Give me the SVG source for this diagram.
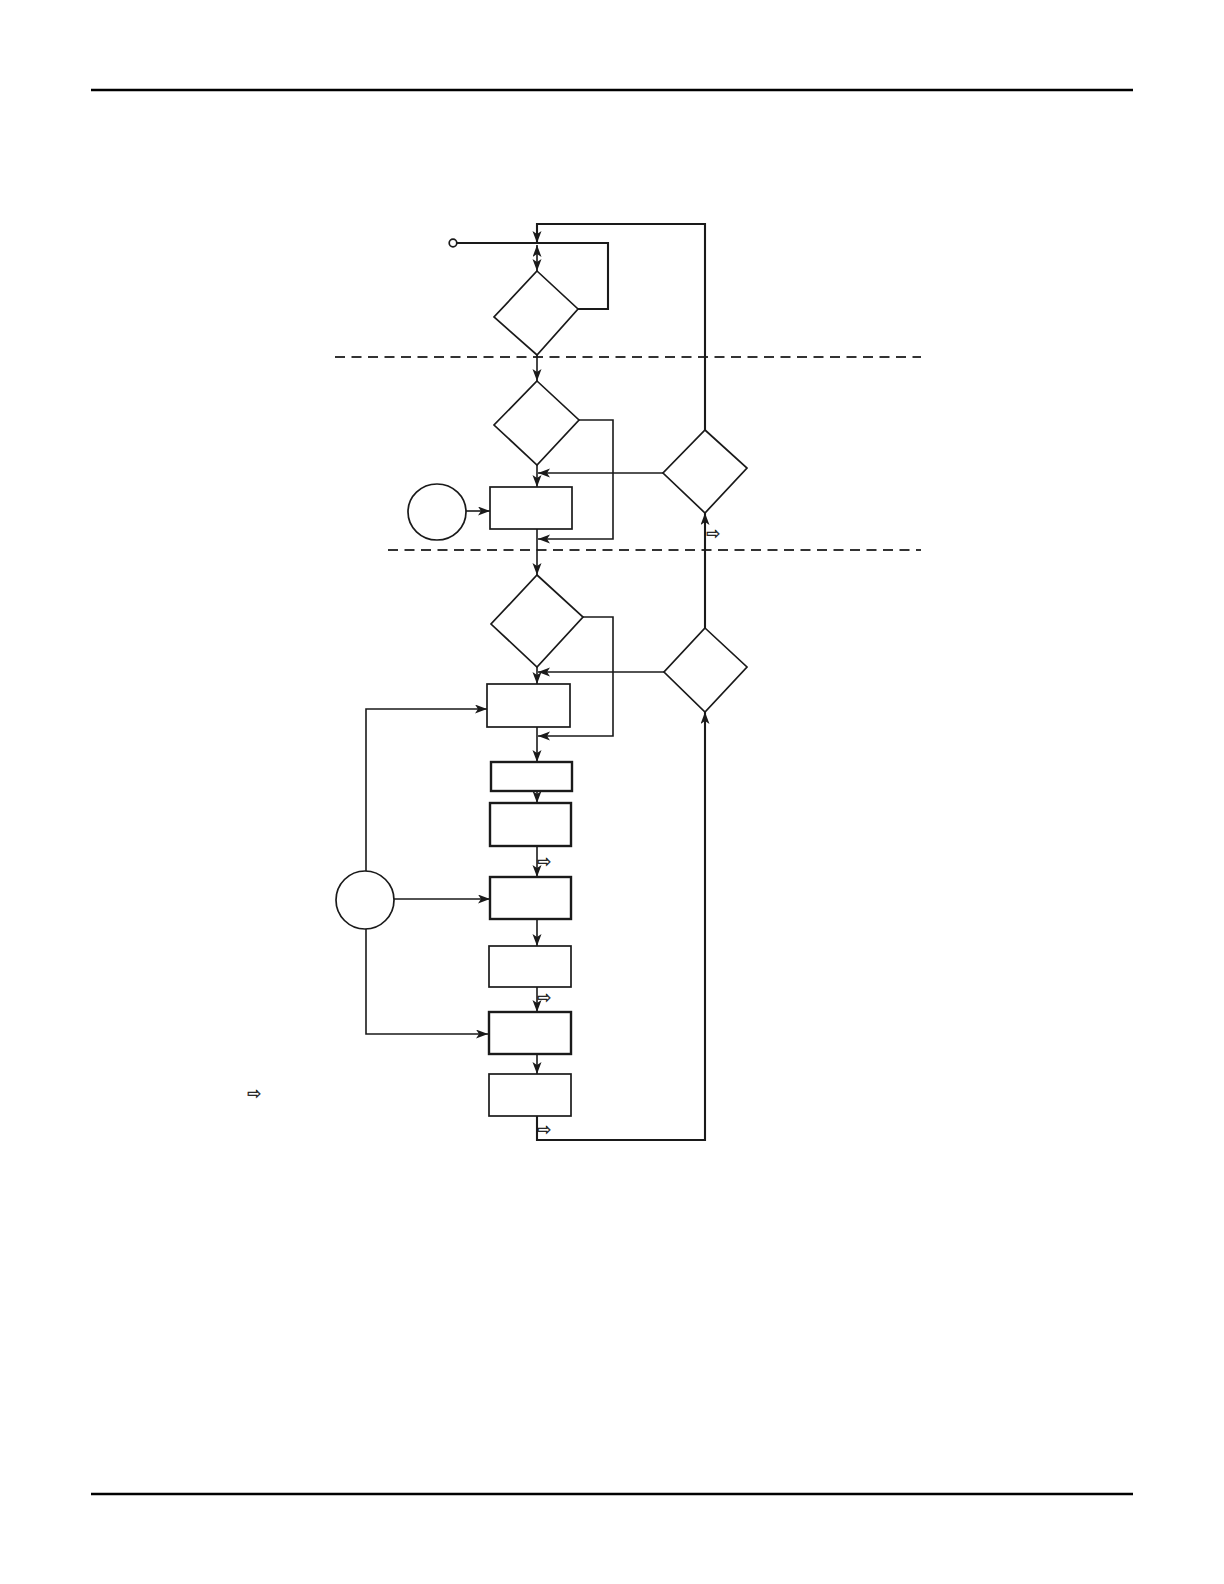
<svg xmlns="http://www.w3.org/2000/svg" width="1224" height="1584" viewBox="0 0 1224 1584">
<style>
.shape{fill:#fff;stroke:#1a1a1a;stroke-width:1.7}
.thick{stroke-width:2.4}
.ln{fill:none;stroke:#1a1a1a;stroke-width:1.6}
.lnb{fill:none;stroke:#1a1a1a;stroke-width:2.1}
.dash{fill:none;stroke:#333;stroke-width:1.8;stroke-dasharray:10 6.5}
.rule{stroke:#000;stroke-width:2.5}
.sym{font-family:"DejaVu Sans",sans-serif;font-size:17px;fill:#111;stroke:#111;stroke-width:0.3}
</style>
<defs>
<marker id="ah" markerUnits="userSpaceOnUse" markerWidth="13" markerHeight="10" refX="12" refY="4.5" orient="auto-start-reverse">
<path d="M0,0 L12,4.5 L0,9 L3,4.5 Z" fill="#1a1a1a"/>
</marker>
</defs>
<g id="page-rules">
<line class="rule" x1="91" y1="90" x2="1133" y2="90"/>
<line class="rule" x1="91" y1="1494" x2="1133" y2="1494"/>
</g>
<g id="separators">
<line class="dash" x1="335" y1="357" x2="921" y2="357"/>
<line class="dash" x1="388" y1="550" x2="921" y2="550"/>
</g>
<g id="connectors">
<path class="lnb" d="M705,430 V224 H537 V243" marker-end="url(#ah)"/>
<path class="lnb" d="M457,243 H608 V309 H578"/>
<path class="ln" d="M537,245 V271" marker-start="url(#ah)" marker-end="url(#ah)"/>
<path class="ln" d="M537,355 V381" marker-end="url(#ah)"/>
<path class="ln" d="M537,465 V487" marker-end="url(#ah)"/>
<path class="ln" d="M663,473 H538" marker-end="url(#ah)"/>
<path class="ln" d="M579,420 H613 V539 H538" marker-end="url(#ah)"/>
<path class="ln" d="M466,511 H490" marker-end="url(#ah)"/>
<path class="ln" d="M537,529 V575" marker-end="url(#ah)"/>
<path class="lnb" d="M705,628 V513" marker-end="url(#ah)"/>
<path class="ln" d="M583,617 H613 V736 H538" marker-end="url(#ah)"/>
<path class="ln" d="M664,672 H538" marker-end="url(#ah)"/>
<path class="ln" d="M537,667 V684" marker-end="url(#ah)"/>
<path class="ln" d="M366,871 V709 H487" marker-end="url(#ah)"/>
<path class="ln" d="M537,727 V762" marker-end="url(#ah)"/>
<path class="ln" d="M537,791 V803" marker-end="url(#ah)"/>
<path class="ln" d="M537,846 V877" marker-end="url(#ah)"/>
<path class="ln" d="M394,899 H490" marker-end="url(#ah)"/>
<path class="ln" d="M537,919 V946" marker-end="url(#ah)"/>
<path class="ln" d="M537,987 V1012" marker-end="url(#ah)"/>
<path class="ln" d="M366,929 V1034 H488" marker-end="url(#ah)"/>
<path class="ln" d="M537,1054 V1074" marker-end="url(#ah)"/>
<path class="lnb" d="M537,1116 V1140 H705 V712" marker-end="url(#ah)"/>
</g>
<g id="start">
<circle class="shape" cx="453" cy="243" r="3.8"/>
</g>
<g id="d1"><polygon class="shape" points="537,271 578,309 537,355 494,317"/></g>
<g id="d2"><polygon class="shape" points="537,381 579,420 537,465 494,425"/></g>
<g id="rd1"><polygon class="shape" points="705,430 747,468 705,513 663,473"/></g>
<g id="c1"><ellipse class="shape" cx="437" cy="512" rx="29" ry="28"/></g>
<g id="r1"><rect class="shape" x="490" y="487" width="82" height="42"/></g>
<g id="d3"><polygon class="shape" points="537,575 583,617 537,667 491,624"/></g>
<g id="rd2"><polygon class="shape" points="705,628 747,667 705,712 664,672"/></g>
<g id="r2"><rect class="shape" x="487" y="684" width="83" height="43"/></g>
<g id="r3"><rect class="shape thick" x="491" y="762" width="81" height="29"/></g>
<g id="r4"><rect class="shape thick" x="490" y="803" width="81" height="43"/></g>
<g id="c2"><circle class="shape" cx="365" cy="900" r="29"/></g>
<g id="r5"><rect class="shape thick" x="490" y="877" width="81" height="42"/></g>
<g id="r6"><rect class="shape" x="489" y="946" width="82" height="41"/></g>
<g id="r7"><rect class="shape thick" x="489" y="1012" width="82" height="42"/></g>
<g id="r8"><rect class="shape" x="489" y="1074" width="82" height="42"/></g>
<g id="flow-symbols">
<text class="sym" x="706" y="539">⇨</text>
<text class="sym" x="537" y="867">⇨</text>
<text class="sym" x="537" y="1003">⇨</text>
<text class="sym" x="537" y="1135">⇨</text>
<text class="sym" x="247" y="1099">⇨</text>
</g>
</svg>
